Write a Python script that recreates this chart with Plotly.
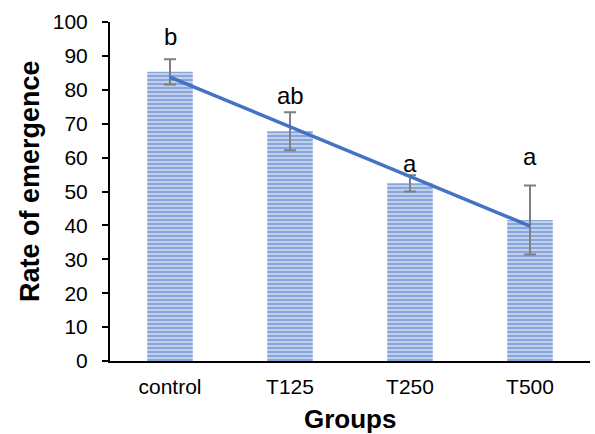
import numpy as np
import plotly.graph_objects as go

groups = ["control", "T125", "T250", "T500"]
emergence = [85.3, 67.8, 52.4, 41.6]
err = [3.7, 5.6, 2.4, 10.2]
letters = ["b", "ab", "a", "a"]
letter_y = [95.6, 78.2, 58.4, 60.2]

x_idx = np.arange(len(groups))
slope, icpt = np.polyfit(x_idx, emergence, 1)
trend = slope * x_idx + icpt

fig = go.Figure()
fig.add_trace(go.Bar(
    x=groups, y=emergence, width=0.38,
    marker=dict(color="#cfdaf0", line=dict(width=0),
                pattern=dict(shape="-", fgcolor="#4472C4", bgcolor="#cfdaf0",
                             size=4, solidity=0.6)),
    error_y=dict(type="data", array=err, visible=True, color="#7f7f7f",
                 thickness=2, width=6),
    showlegend=False,
))
fig.add_trace(go.Scatter(
    x=groups, y=trend, mode="lines",
    line=dict(color="#4472C4", width=3.5), showlegend=False,
))
for g, t, yv in zip(groups, letters, letter_y):
    fig.add_annotation(x=g, y=yv, text=t, showarrow=False,
                       font=dict(size=24, color="black", family="Liberation Sans, Arial"))

fig.add_annotation(xref="paper", yref="paper", x=-0.1667, y=0.531,
                   xanchor="center", yanchor="middle",
                   text="<b>Rate of emergence</b>", textangle=-90, showarrow=False,
                   font=dict(size=27, color="black", family="Liberation Sans, Arial"))
fig.add_annotation(xref="paper", yref="paper", x=0.5, y=-0.171,
                   xanchor="center", yanchor="middle",
                   text="<b>Groups</b>", showarrow=False,
                   font=dict(size=26, color="black", family="Liberation Sans, Arial"))

fig.update_layout(
    width=595, height=434,
    margin=dict(l=110, r=5, t=22, b=73, autoexpand=False),
    paper_bgcolor="white", plot_bgcolor="white",
    font=dict(family="Liberation Sans, Arial", color="black", size=20),
    bargap=0.62,
)
fig.update_xaxes(
    showline=True, linecolor="black", linewidth=2, ticks="",
    showgrid=False, tickfont=dict(size=21), ticklabelstandoff=6, automargin=False,
)
fig.update_yaxes(
    range=[0, 100], dtick=10, showline=True, linecolor="black", linewidth=2,
    ticks="outside", ticklen=6, tickwidth=2, tickcolor="black",
    showgrid=False, zeroline=False, tickfont=dict(size=21), ticklabelstandoff=10,
    automargin=False,
)
fig.write_html("out.html")
